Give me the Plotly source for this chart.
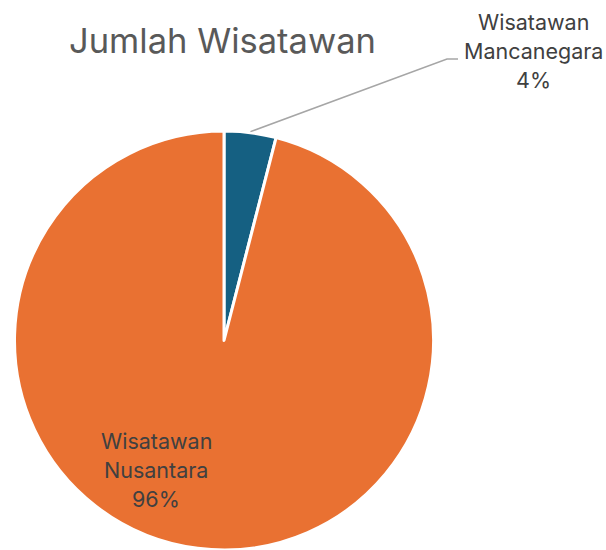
import math
import plotly.graph_objects as go

# Tourist composition
categories = ["Wisatawan Mancanegara", "Wisatawan Nusantara"]
shares = [4, 96]
colors = ["#156082", "#E97132"]

W, H = 606, 550
total = sum(shares)
pct = [f"{v / total * 100:.0f}%" for v in shares]

# pie geometry in pixels (from the top-left corner of the page)
CX, CY, R = 224, 341, 210

fig = go.Figure(
    go.Pie(
        labels=categories,
        values=shares,
        sort=False,
        direction="clockwise",
        rotation=0,
        textinfo="none",
        hoverinfo="label+percent",
        marker=dict(colors=colors, line=dict(color="white", width=3)),
        domain=dict(x=[(CX - R - 3) / W, (CX + R + 3) / W], y=[0, (H - CY + R) / H]),
        showlegend=False,
    )
)

font_family = "Inter, 'Open Sans', sans-serif"
label_font = dict(family=font_family, size=21.5, color="#404040")
LINE_GAP = 29


def px(x, y):
    return x / W, 1 - y / H


def stacked_label(name, p, cx, cy_top):
    lines = name.split(" ") + [p]
    out = []
    for i, line in enumerate(lines):
        x, y = px(cx, cy_top + i * LINE_GAP)
        out.append(dict(text=line, x=x, y=y, xref="paper", yref="paper",
                        showarrow=False, xanchor="center", yanchor="middle",
                        font=label_font))
    return out


tx, ty = px(222, 40)
annotations = [
    dict(text="Jumlah Wisatawan", x=tx, y=ty, xref="paper", yref="paper",
         showarrow=False, xanchor="center", yanchor="middle",
         font=dict(family=font_family, size=34.5, color="#595959")),
]
annotations += stacked_label(categories[0], pct[0], 533, 22)
annotations += stacked_label(categories[1], pct[1], 156, 441)

# leader line from the middle of the small slice's rim to its label
mid = math.radians(shares[0] / total * 360 / 2)
sx, sy = CX + (R + 1) * math.sin(mid), CY - (R + 1) * math.cos(mid)
x0, y0 = px(sx, sy)
x1, y1 = px(447, 59)
x2, y2 = px(458, 59)
shapes = [dict(type="path", xref="paper", yref="paper",
               path=f"M {x0} {y0} L {x1} {y1} L {x2} {y2}",
               line=dict(color="#A6A6A6", width=1.5))]

fig.update_layout(
    width=W, height=H,
    margin=dict(l=0, r=0, t=0, b=0),
    paper_bgcolor="white", plot_bgcolor="white",
    annotations=annotations,
    shapes=shapes,
)

fig.write_html("out.html")
